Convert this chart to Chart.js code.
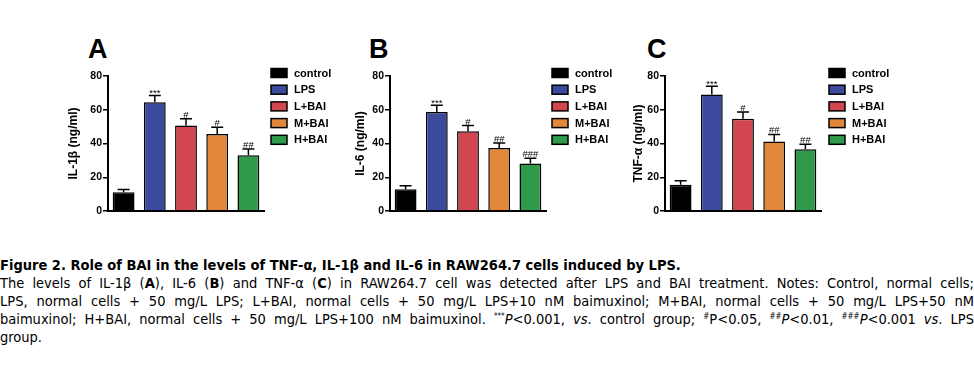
<!DOCTYPE html>
<html>
<head>
<meta charset="utf-8">
<script src="https://cdn.jsdelivr.net/npm/chart.js@4.4.0/dist/chart.umd.min.js"></script>
<style>
body { margin:0; background:#fff; width:974px; height:366px; position:relative; overflow:hidden; font-family:Arial, "Liberation Sans", sans-serif; }
.panel { position:absolute; top:30px; }
.letter { position:absolute; top:36px; font:bold 27px/1 Arial, "Liberation Sans", sans-serif; color:#000; }
.caption { position:absolute; left:0; top:256px; width:974px; font-family:"Liberation Sans Narrow","DejaVu Sans Condensed",sans-serif; font-size:14.5px; line-height:18px; color:#000; }
.caption div { text-align:justify; text-align-last:justify; }
.caption div.last { text-align-last:left; }
.caption sup { font-size:8px; vertical-align:5px; line-height:0; }
</style>
</head>
<body>
<div class="letter" style="left:88px">A</div>
<div class="letter" style="left:369px">B</div>
<div class="letter" style="left:647px">C</div>
<canvas id="chartA" class="panel" width="300" height="195" style="left:38px"></canvas>
<canvas id="chartB" class="panel" width="300" height="195" style="left:320px"></canvas>
<canvas id="chartC" class="panel" width="300" height="195" style="left:595px"></canvas>

<div class="caption">
<div style="text-align-last:left"><b>Figure 2. Role of BAI in the levels of TNF-α, IL-1β and IL-6 in RAW264.7 cells induced by LPS.</b></div>
<div>The levels of IL-1β (<b>A</b>), IL-6 (<b>B</b>) and TNF-α (<b>C</b>) in RAW264.7 cell was detected after LPS and BAI treatment. Notes: Control, normal cells;</div>
<div>LPS, normal cells + 50 mg/L LPS; L+BAI, normal cells + 50 mg/L LPS+10 nM baimuxinol; M+BAI, normal cells + 50 mg/L LPS+50 nM</div>
<div>baimuxinol; H+BAI, normal cells + 50 mg/L LPS+100 nM baimuxinol. <sup>***</sup><i>P</i>&lt;0.001, <i>vs</i>. control group; <sup>#</sup>P&lt;0.05, <sup>##</sup><i>P</i>&lt;0.01, <sup>###</sup><i>P</i>&lt;0.001 <i>vs</i>. LPS</div>
<div class="last">group.</div>
</div>

<script>
// groups and colours shared by the three panels
const categories = ['control', 'LPS', 'L+BAI', 'M+BAI', 'H+BAI'];
const barColors = ['#000000', '#3b4a9c', '#d2464f', '#e0873a', '#2f9a4a'];
const yTicks = [0, 20, 40, 60, 80];

// A: IL-1β
const il1bValues = [11.1, 64.5, 50.7, 45.7, 33.0];
const il1bErrors = [1.6, 4.0, 4.0, 4.0, 3.8];
const il1bMarks = ['', '***', '#', '#', '##'];

// B: IL-6
const il6Values = [12.9, 58.7, 47.3, 37.3, 28.2];
const il6Errors = [2.0, 4.0, 3.3, 3.0, 3.0];
const il6Marks = ['', '***', '#', '##', '###'];

// C: TNF-α
const tnfValues = [15.5, 69.0, 54.7, 41.2, 36.6];
const tnfErrors = [2.4, 5.0, 4.0, 4.2, 3.0];
const tnfMarks = ['', '***', '#', '##', '##'];

// error bars + significance marks above each bar
const errorBarPlugin = {
    id: 'errorBars',
    afterDatasetsDraw(chart, args, opts) {
        const ctx = chart.ctx;
        const yScale = chart.scales.y;
        const meta = chart.getDatasetMeta(0);
        ctx.save();
        ctx.strokeStyle = '#000';
        ctx.fillStyle = '#000';
        ctx.lineWidth = 1.5;
        meta.data.forEach((bar, i) => {
            const v = opts.values[i];
            const top = yScale.getPixelForValue(v + opts.errors[i]);
            const base = yScale.getPixelForValue(v);
            ctx.beginPath();
            ctx.moveTo(bar.x, base);
            ctx.lineTo(bar.x, top);
            ctx.moveTo(bar.x - 6, top);
            ctx.lineTo(bar.x + 6, top);
            ctx.stroke();
            if (opts.marks[i]) {
                ctx.font = '9.5px Arial, "Liberation Sans"';
                ctx.textAlign = 'center';
                ctx.textBaseline = 'alphabetic';
                const t = opts.marks[i].startsWith('*') ? top + 1 : top - 1;
                ctx.fillText(opts.marks[i], bar.x, t);
            }
        });
        ctx.restore();
    }
};

// legend to the right of the plot, one box per group
const sideLegendPlugin = {
    id: 'sideLegend',
    afterDraw(chart, args, opts) {
        const ctx = chart.ctx;
        const x0 = chart.chartArea.right + opts.offset;
        const y0 = chart.chartArea.top - 3;
        ctx.save();
        ctx.font = 'bold 11px Arial, "Liberation Sans"';
        ctx.textBaseline = 'middle';
        ctx.textAlign = 'left';
        categories.forEach((c, i) => {
            const y = y0 + i * 16.7;
            ctx.fillStyle = barColors[i];
            ctx.fillRect(x0, y - 4.5, 16, 9);
            ctx.strokeStyle = '#000';
            ctx.lineWidth = 1.5;
            ctx.strokeRect(x0, y - 4.5, 16, 9);
            ctx.fillStyle = '#000';
            ctx.fillText(c, x0 + 23, y + 0.5);
        });
        ctx.restore();
    }
};

function makeChart(id, values, errors, marks, title, scaleWidth, legendOffset) {
    return new Chart(document.getElementById(id), {
        type: 'bar',
        data: {
            labels: categories,
            datasets: [{
                data: values,
                backgroundColor: barColors,
                borderColor: '#000',
                borderWidth: 1.5,
                categoryPercentage: 0.7,
                barPercentage: 1.0
            }]
        },
        options: {
            responsive: false,
            animation: false,
            layout: { padding: { left: 70 - scaleWidth, top: 46, right: 74, bottom: 14 } },
            plugins: {
                legend: { display: false },
                tooltip: { enabled: false },
                errorBars: { values: values, errors: errors, marks: marks },
                sideLegend: { offset: legendOffset }
            },
            scales: {
                x: {
                    ticks: { display: false },
                    grid: { display: false, drawTicks: false },
                    border: { display: true, color: '#000', width: 2 }
                },
                y: {
                    min: 0,
                    max: 80,
                    afterBuildTicks: s => { s.ticks = yTicks.map(v => ({ value: v })); },
                    afterFit: s => { s.width = scaleWidth; },
                    ticks: { color: '#000', font: { family: 'Arial, "Liberation Sans"', size: 10.5, weight: 'bold' }, padding: 1 },
                    grid: { drawOnChartArea: false, drawTicks: true, tickLength: 5, color: '#000', lineWidth: 1.5 },
                    border: { display: true, color: '#000', width: 2 },
                    title: { display: true, text: title, color: '#000', font: { family: 'Arial, "Liberation Sans"', size: 12, weight: 'bold' }, padding: { top: 0, bottom: 4 } }
                }
            }
        },
        plugins: [errorBarPlugin, sideLegendPlugin]
    });
}

makeChart('chartA', il1bValues, il1bErrors, il1bMarks, 'IL-1β (ng/ml)', 42, 7);
makeChart('chartB', il6Values, il6Errors, il6Marks, 'IL-6 (ng/ml)', 37, 6);
makeChart('chartC', tnfValues, tnfErrors, tnfMarks, 'TNF-α (ng/ml)', 34, 8);
</script>
</body>
</html>
